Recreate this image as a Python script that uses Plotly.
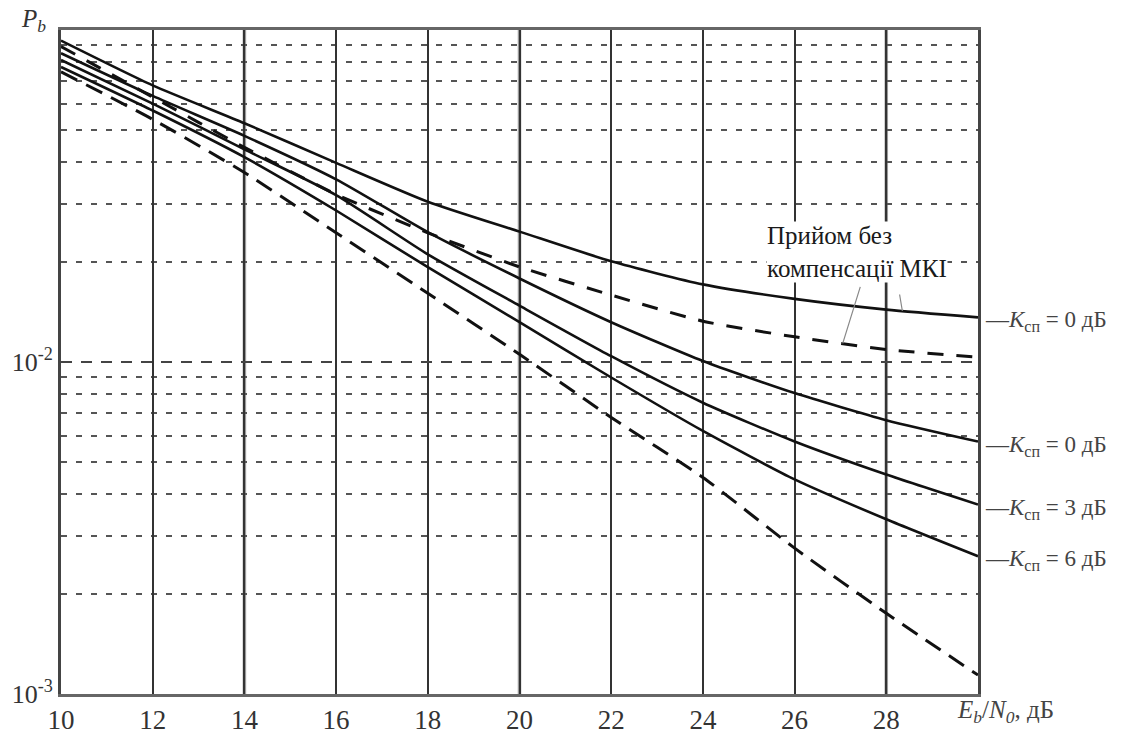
import numpy as np
import plotly.graph_objects as go

# Eb/N0, dB
ebn0 = [10, 12, 14, 16, 18, 20, 22, 24, 26, 28, 30]

# Bit error probability curves
pb_nocomp_k0 = [0.0929, 0.0681, 0.0524, 0.0398, 0.0304, 0.0247, 0.0201, 0.01713, 0.01549, 0.01438, 0.01363]
pb_nocomp_dash = [0.0892, 0.0628, 0.0443, 0.0320, 0.0245, 0.01934, 0.01591, 0.01327, 0.01191, 0.01091, 0.01034]
pb_comp_k0 = [0.0851, 0.0633, 0.0480, 0.0355, 0.0246, 0.01785, 0.01318, 0.01007, 0.00806, 0.00668, 0.00576]
pb_comp_k3 = [0.0812, 0.0600, 0.0437, 0.0318, 0.0211, 0.01478, 0.01041, 0.00754, 0.00576, 0.00458, 0.00372]
pb_comp_k6 = [0.0774, 0.0572, 0.0414, 0.0286, 0.0193, 0.01318, 0.00898, 0.00620, 0.00443, 0.00336, 0.00260]
pb_ideal = [0.0748, 0.0538, 0.0372, 0.0245, 0.0161, 0.01055, 0.00681, 0.00449, 0.00275, 0.00175, 0.00114]

x_ticks = [10, 12, 14, 16, 18, 20, 22, 24, 26, 28]
x_grey = [14, 20, 28]
y_ticks = [1e-3, 1e-2]
y_tick_text = ["10<sup>-3</sup>", "10<sup>-2</sup>"]
y_minor = [k * 10.0 ** e for e in (-3, -2) for k in range(2, 10)]

right_labels = ["—<i>K</i><sub>сп</sub> = 0 дБ", "—<i>K</i><sub>сп</sub> = 0 дБ",
                "—<i>K</i><sub>сп</sub> = 3 дБ", "—<i>K</i><sub>сп</sub> = 6 дБ"]
note_text = "Прийом без<br>компенсації МКІ"

SERIF = "Liberation Serif"

fig = go.Figure()

series = [
    (pb_nocomp_k0, None),
    (pb_nocomp_dash, "16px,13px"),
    (pb_comp_k0, None),
    (pb_comp_k3, None),
    (pb_comp_k6, None),
    (pb_ideal, "18px,10px"),
]
for ys, dash in series:
    fig.add_trace(go.Scatter(
        x=ebn0, y=ys, mode="lines",
        line=dict(color="#111111", width=3 if dash else 2.6,
                  dash=dash or "solid", shape="spline", smoothing=0.6),
        showlegend=False, hoverinfo="skip"))

# lighter vertical grid lines
for xv in x_grey:
    fig.add_shape(type="line", xref="x", yref="paper", x0=xv, x1=xv, y0=0, y1=1,
                  line=dict(color="#9a9a9a", width=3.5), layer="between")

# curve-end labels on the right
for ys, txt in zip([pb_nocomp_k0, pb_comp_k0, pb_comp_k3, pb_comp_k6], right_labels):
    fig.add_annotation(x=ebn0[-1], y=np.log10(ys[-1]), xref="x", yref="y",
                       text=txt, showarrow=False, xanchor="left", yanchor="middle",
                       xshift=5, yshift=-4,
                       font=dict(family=SERIF, size=23, color="#444444"))


def log_interp(xq, ys):
    return float(np.interp(xq, ebn0, np.log10(ys)))


# note with two leader lines
fig.add_annotation(x=27.05, y=log_interp(27.05, pb_nocomp_dash), xref="x", yref="y",
                   ax=18, ay=-58, axref="pixel", ayref="pixel",
                   text="", showarrow=True, arrowhead=0, arrowwidth=1.2, arrowcolor="#888888")
fig.add_annotation(x=28.35, y=log_interp(28.35, pb_nocomp_k0), xref="x", yref="y",
                   ax=-3, ay=-18, axref="pixel", ayref="pixel",
                   text="", showarrow=True, arrowhead=0, arrowwidth=1.2, arrowcolor="#888888")
fig.add_annotation(x=25.38, y=np.log10(0.0265), xref="x", yref="y",
                   text=note_text, showarrow=False, xanchor="left", yanchor="top",
                   align="left", bgcolor="white", borderpad=0,
                   font=dict(family=SERIF, size=25, color="#1a1a1a"))

# axis titles
fig.add_annotation(x=-0.03, y=1.04, xref="paper", yref="paper",
                   text="<i>P<sub>b</sub></i>", showarrow=False,
                   xanchor="center", yanchor="top",
                   font=dict(family=SERIF, size=25, color="#333333"))
fig.add_annotation(x=1.03, y=-0.027, xref="paper", yref="paper",
                   text="<i>E<sub>b</sub></i>/<i>N<sub>0</sub></i>, дБ", showarrow=False,
                   xanchor="center", yanchor="middle",
                   font=dict(family=SERIF, size=25, color="#444444"))

fig.update_xaxes(
    range=[10, 30], tickmode="array", tickvals=x_ticks,
    ticks="", showgrid=True, gridcolor="#333333", gridwidth=2,
    showline=True, linecolor="#666666", linewidth=3, mirror=True,
    zeroline=False,
    tickfont=dict(family=SERIF, size=27, color="#333333"),
)
fig.update_yaxes(
    type="log", range=[-3, -1], tickmode="array", tickvals=y_ticks, ticktext=y_tick_text,
    ticks="", showgrid=True, gridcolor="#444444", gridwidth=1.6, griddash="11px,9px",
    minor=dict(tickmode="array", tickvals=y_minor, showgrid=True,
               gridcolor="#555555", gridwidth=1.6, griddash="6px,9px", ticks=""),
    showline=True, linecolor="#444444", linewidth=3, mirror=True,
    zeroline=False,
    tickfont=dict(family=SERIF, size=26, color="#333333"),
)

fig.update_layout(
    width=1124, height=747,
    margin=dict(l=58, r=146, t=30, b=34),
    paper_bgcolor="white", plot_bgcolor="white",
)

fig.write_html("out.html")
